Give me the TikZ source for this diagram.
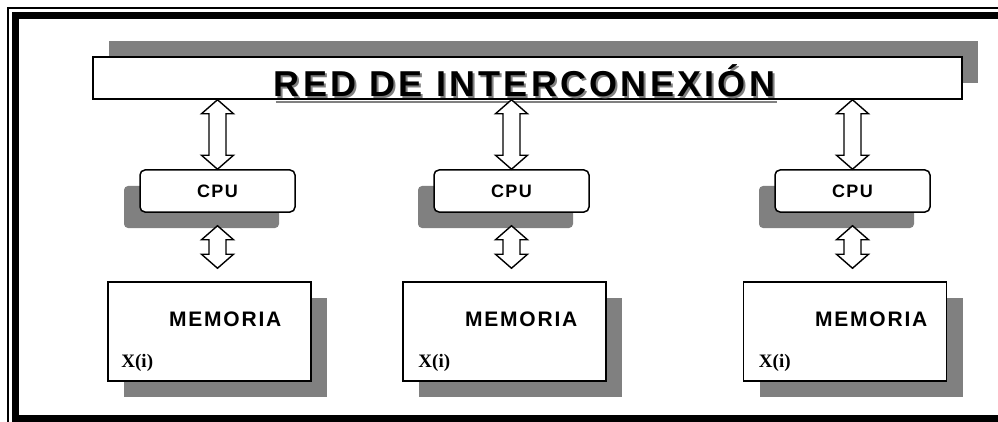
\documentclass[tikz,border=0pt]{standalone}
\usepackage{fontspec}
\setmainfont{Liberation Serif}
\setsansfont{Liberation Sans}
\usetikzlibrary{calc}
\tikzset{
    my-bar/.style={
        draw, fill=white, line width=1.5pt, inner sep=0pt, minimum width=869pt, minimum height=42pt
    },
    my-bar-shadow/.style={
        fill=black!50, inner sep=0pt, minimum width=869pt, minimum height=42pt
    },
    my-cpu/.style={
        draw, fill=white, line width=1.5pt, rounded corners=5pt, inner sep=0pt,
        minimum width=155pt, minimum height=42pt,
        font={\sffamily\bfseries\fontsize{18}{20}\selectfont\addfontfeature{LetterSpace=8}}
    },
    my-cpu-shadow/.style={
        fill=black!50, rounded corners=4pt, inner sep=0pt, minimum width=155pt, minimum height=42pt
    },
    my-mem/.style={
        draw, fill=white, line width=1.5pt, inner sep=0pt, minimum width=203pt, minimum height=99pt
    },
    my-mem-shadow/.style={
        fill=black!50, inner sep=0pt, minimum width=203pt, minimum height=99pt
    },
    my-title/.style={
        inner sep=0pt, font={\sffamily\bfseries\fontsize{36}{40}\selectfont\addfontfeature{LetterSpace=9}}
    },
    my-memtext/.style={
        inner sep=0pt, font={\sffamily\bfseries\fontsize{21}{24}\selectfont\addfontfeature{LetterSpace=8.5}}
    },
    my-var/.style={
        inner sep=0pt, font={\bfseries\fontsize{19}{22}\selectfont}
    },
    my-arrow/.style={
        draw, fill=white, line width=1.4pt, line join=miter
    },
}

% HOLLOW DOUBLE ARROW BETWEEN TWO POINTS (TOP, BOTTOM)
\newcommand{\dblarrow}[2]{%
    \draw[my-arrow] (#1) -- ++(-16, 14) -- ++(7.5, 0) -- ($(#2) + (-8.5, -14)$) -- ++(-7.5, 0)
        -- (#2) -- ++(16, -14) -- ++(-7.5, 0) -- ($(#1) + (8.5, 14)$) -- ++(7.5, 0) -- cycle;
}

\begin{document}
\begin{tikzpicture}[x=1pt, y=-1pt]

        \path[use as bounding box, clip] (0, 0) rectangle (998, 422);

        % FRAME ---------------------------------------------------------------------------------------
        \draw[line width=1.5pt] (8, 8) rectangle (1010, 430);
        \draw[line width=7pt]   (15.5, 15.5) rectangle (1002, 418);

        % INTERCONNECTION NETWORK ---------------------------------------------------------------------
        \coordinate (REDPOS) at (527.5, 78);
        \node[my-bar-shadow] (REDSHADOW) at ($(REDPOS) + (15.5, -16)$) {};
        \node[my-bar]        (RED)       at (REDPOS)                   {};

        % TITLE WITH SHADOW AND UNDERLINE
        \node[my-title, anchor=base, text=black!50] (TITLESHADOW) at (526.5, 99) {RED DE INTERCONEXIÓN};
        \draw[line width=1.5pt, black!50] ($(TITLESHADOW.base west) + (0, 3)$) -- ($(TITLESHADOW.base east) + (0, 3)$);
        \node[my-title, anchor=base] (TITLE) at (524.5, 97) {RED DE INTERCONEXIÓN};
        \draw[line width=1.5pt] ($(TITLE.base west) + (0, 2.5)$) -- ($(TITLE.base east) + (0, 2.5)$);

        % PROCESSORS ----------------------------------------------------------------------------------
        \coordinate (CPU1POS) at (217.5, 191);
        \coordinate (CPU2POS) at (511.5, 191);
        \coordinate (CPU3POS) at (852.5, 191);

        \node[my-cpu-shadow] (CPU1SHADOW) at ($(CPU1POS) + (-16, 16)$) {};
        \node[my-cpu-shadow] (CPU2SHADOW) at ($(CPU2POS) + (-16, 16)$) {};
        \node[my-cpu-shadow] (CPU3SHADOW) at ($(CPU3POS) + (-16, 16)$) {};
        \node[my-cpu] (CPU1) at (CPU1POS) {CPU};
        \node[my-cpu] (CPU2) at (CPU2POS) {CPU};
        \node[my-cpu] (CPU3) at (CPU3POS) {CPU};

        % MEMORIES ------------------------------------------------------------------------------------
        \coordinate (MEM1POS) at (209.5, 331.5);
        \coordinate (MEM2POS) at (504.5, 331.5);
        \coordinate (MEM3POS) at (845, 331.5);

        \node[my-mem-shadow] (MEM1SHADOW) at ($(MEM1POS) + (16, 16)$) {};
        \node[my-mem-shadow] (MEM2SHADOW) at ($(MEM2POS) + (16, 16)$) {};
        \node[my-mem-shadow] (MEM3SHADOW) at ($(MEM3POS) + (16, 16)$) {};
        \node[my-mem] (MEM1) at (MEM1POS) {};
        \node[my-mem] (MEM2) at (MEM2POS) {};
        \node[my-mem] (MEM3) at (MEM3POS) {};

        % MEMORY LABELS
        \node[my-memtext, anchor=base] (MEM1TXT) at ($(MEM1.north west) + (118, 45)$)   {MEMORIA};
        \node[my-memtext, anchor=base] (MEM2TXT) at ($(MEM2.north west) + (119, 45)$)   {MEMORIA};
        \node[my-memtext, anchor=base] (MEM3TXT) at ($(MEM3.north west) + (128.5, 45)$) {MEMORIA};
        \node[my-var, anchor=base west] (X1) at ($(MEM1.south west) + (14, -14)$) {X(i)};
        \node[my-var, anchor=base west] (X2) at ($(MEM2.south west) + (16, -14)$) {X(i)};
        \node[my-var, anchor=base west] (X3) at ($(MEM3.south west) + (16, -14)$) {X(i)};

        % NETWORK <-> CPU ARROWS
        \dblarrow{RED.south -| CPU1.north}{CPU1.north}
        \dblarrow{RED.south -| CPU2.north}{CPU2.north}
        \dblarrow{RED.south -| CPU3.north}{CPU3.north}

        % CPU <-> MEMORY ARROWS
        \coordinate (A1TOP) at ($(CPU1.south) + (0, 13)$);
        \coordinate (A2TOP) at ($(CPU2.south) + (0, 13)$);
        \coordinate (A3TOP) at ($(CPU3.south) + (0, 13)$);
        \coordinate (A1BOT) at ($(MEM1.north -| CPU1.south) + (0, -13)$);
        \coordinate (A2BOT) at ($(MEM2.north -| CPU2.south) + (0, -13)$);
        \coordinate (A3BOT) at ($(MEM3.north -| CPU3.south) + (0, -13)$);
        \dblarrow{A1TOP}{A1BOT}
        \dblarrow{A2TOP}{A2BOT}
        \dblarrow{A3TOP}{A3BOT}

    \end{tikzpicture}
\end{document}
